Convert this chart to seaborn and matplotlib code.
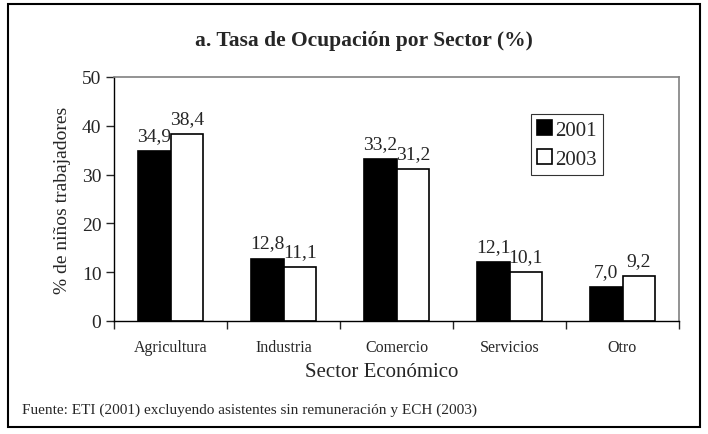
import numpy as np
import pandas as pd
import matplotlib.pyplot as plt
import seaborn as sns
from matplotlib.patches import Rectangle

# Values
sectores = ["Agricultura", "Industria", "Comercio", "Servicios", "Otro"]
tasa_2001 = [34.9, 12.8, 33.2, 12.1, 7.0]
tasa_2003 = [38.4, 11.1, 31.2, 10.1, 9.2]
anios = ["2001", "2003"]

df = pd.DataFrame({
    "Sector": sectores * 2,
    "Tasa": tasa_2001 + tasa_2003,
    "Año": [anios[0]] * len(sectores) + [anios[1]] * len(sectores),
})

sns.set_style("white")
plt.rcParams["font.family"] = ["Liberation Serif", "DejaVu Serif"]

W, H = 708, 435
fig = plt.figure(figsize=(7.08, 4.35), dpi=100)
# plot area in pixels: left 114, right 679, top 78, bottom 322
ax = fig.add_axes([114 / W, 1 - 322 / H, 565 / W, 244 / H])

sns.barplot(data=df, x="Sector", y="Tasa", hue="Año", order=sectores,
            palette=["black", "white"], edgecolor="black", linewidth=1.2,
            width=0.58, ax=ax, errorbar=None)

for cont in ax.containers:
    ax.bar_label(cont, labels=[f"{v:.1f}".replace(".", ",") for v in cont.datavalues],
                 padding=5, fontsize=14)

ax.set_ylim(0, 50)
ax.set_yticks(np.arange(0, 51, 10))
ax.set_xlim(-0.5, 4.5)
ax.tick_params(axis="y", labelsize=14, length=6, direction="out", left=True,
               width=1, pad=3)
ax.set_xticks(range(len(sectores)))
ax.set_xticklabels(sectores, fontsize=11.5)
ax.set_xticks(np.arange(-0.5, 5.0, 1.0), minor=True)
ax.tick_params(axis="x", which="major", length=0, pad=13)
ax.tick_params(axis="x", which="minor", length=6, direction="out", bottom=True, width=1)

for side in ["left", "bottom"]:
    ax.spines[side].set_color("black")
    ax.spines[side].set_linewidth(1.0)
for side in ["top", "right"]:
    ax.spines[side].set_color("#808080")
    ax.spines[side].set_linewidth(1.2)

ax.set_ylabel("% de niños trabajadores", fontsize=14, labelpad=8)
ax.set_xlabel("")
fig.text(382 / W, 1 - 373 / H, "Sector Económico", ha="center", va="center",
         fontsize=15)

leg = ax.legend(loc="upper left", bbox_to_anchor=(531 / W, 1 - 115 / H),
                bbox_transform=fig.transFigure, borderaxespad=0, frameon=True,
                fontsize=15, handlelength=0.7, handleheight=0.7,
                handletextpad=0.15, borderpad=0.3, labelspacing=0.45,
                fancybox=False, title=None)
leg.get_frame().set_edgecolor("black")
leg.get_frame().set_linewidth(0.8)

fig.text(364 / W, 1 - 41 / H, "a. Tasa de Ocupación por Sector (%)", ha="center",
         va="center", fontsize=15.5, fontweight="bold")
fig.text(22 / W, 1 - 410 / H,
         "Fuente: ETI (2001) excluyendo asistentes sin remuneración y ECH (2003)",
         ha="left", va="center", fontsize=11)

fig.patches.append(Rectangle((0.011, 0.016), 0.978, 0.972, transform=fig.transFigure,
                             fill=False, edgecolor="black", linewidth=1.5))

fig.savefig("out.png", dpi=100)
